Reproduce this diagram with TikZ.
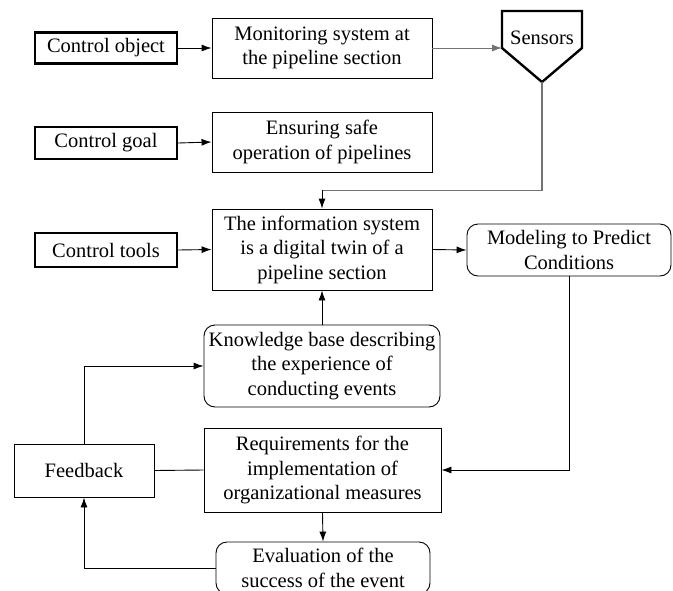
\documentclass[tikz,border=0pt]{standalone}
\usepackage{fontspec}
\setmainfont{Liberation Serif}
\usetikzlibrary{arrows.meta,calc}
\begin{document}
\begin{tikzpicture}[x=1pt,y=-1pt,
  every node/.style={font=\fontsize{20.5}{24.5}\selectfont, align=center, inner sep=1pt},
  thinbox/.style={draw, line width=0.9pt},
  thickbox/.style={draw, line width=2.4pt},
  roundbox/.style={draw, line width=0.9pt, rounded corners=11pt},
  arr/.style={-{Latex[length=10pt,width=7pt]}, line width=0.9pt},
  plain/.style={line width=0.9pt},
  grayline/.style={draw=black!55, line width=1.1pt}]
\useasboundingbox (0,0) rectangle (673,590);
\clip (0,0) rectangle (673,590);

% left column, thick boxes
\node[thickbox, minimum width=142, minimum height=31] (cobj) at (106,48) {Control object};
\node[thickbox, minimum width=142, minimum height=32] (cgoal) at (106,143) {Control goal};
\node[thickbox, minimum width=142, minimum height=34] (ctools) at (106,250) {Control tools};

% middle column
\node[thinbox, minimum width=220, minimum height=60] (mon) at (322,48) {Monitoring system at\\the pipeline section};
\node[thinbox, minimum width=220, minimum height=60] (ens) at (322,142) {Ensuring safe\\operation of pipelines};
\node[thinbox, minimum width=220, minimum height=81] (info) at (322,249.5) {The information system\\is a digital twin of a\\pipeline section};
\node[roundbox, minimum width=236, minimum height=82] (know) at (322,366) {Knowledge base describing\\the experience of\\conducting events};
\node[thinbox, minimum width=237, minimum height=84] (req) at (322.5,470) {Requirements for the\\implementation of\\organizational measures};
\node[roundbox, minimum width=214, minimum height=52] (eval) at (323,568) {Evaluation of the\\success of the event};

% right column
\node[roundbox, minimum width=204, minimum height=52] (model) at (569,250) {Modeling to Predict\\Conditions};
\node[thinbox, minimum width=140, minimum height=53] (fb) at (84,470.5) {Feedback};

% sensors pentagon
\draw[line width=2.4pt, line join=miter] (502,11) -- (582,11) -- (582,48) -- (542,82) -- (502,48) -- cycle;
\node (sens) at (542,38) {Sensors};
\coordinate (sensL) at (502,48);
\coordinate (sensTip) at (542,82);

% connectors
\draw[arr] (cobj.east) -- (mon.west);
\draw[arr] (cgoal.east) -- (ens.west);
\draw[arr] (ctools.east) -- (info.west);
\draw[arr, draw=black!55] (mon.east) -- (sensL);
\draw[grayline] (sensTip) |- ($(info.north)+(0,-18)$);
\draw[arr] ($(info.north)+(0,-18.5)$) -- (info.north);
\draw[arr] (info.east) -- (model.west);
\draw[arr] (know.north) -- (info.south);
\draw[arr] (model.south) |- (req.east);
\draw[arr] (req.south) -- (eval.north);
\draw[plain] (fb.east) -- (req.west);
\draw[arr] (fb.north) |- (know.west);
\draw[arr] (eval.west) -| (fb.south);
\end{tikzpicture}
\end{document}
